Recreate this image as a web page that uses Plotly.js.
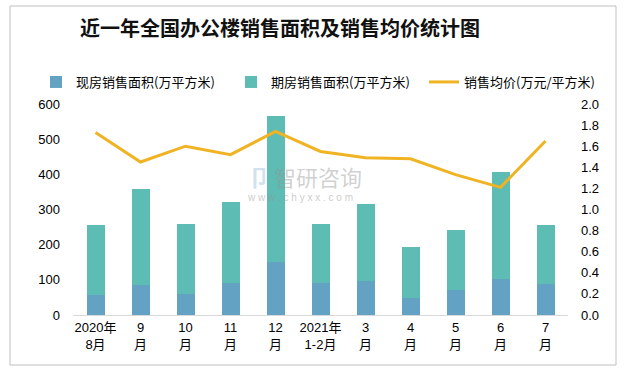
<!DOCTYPE html>
<html>
<head>
<meta charset="utf-8">
<script src="https://cdn.plot.ly/plotly-3.0.1.min.js"></script>
<style>
html,body{margin:0;padding:0;background:#fff;}
#chart{width:631px;height:371px;}
</style>
</head>
<body>
<div id="chart"></div>
<script>
var categories = ["2020年<br>8月", "9<br>月", "10<br>月", "11<br>月", "12<br>月", "2021年<br>1-2月", "3<br>月", "4<br>月", "5<br>月", "6<br>月", "7<br>月"];
var xianfang = [57, 85, 60, 91, 151, 91, 97, 48, 71, 102, 88];
var qifang = [198, 273, 199, 230, 416, 168, 219, 145, 171, 305, 168];
var price = [1.73, 1.45, 1.60, 1.52, 1.74, 1.55, 1.49, 1.48, 1.33, 1.21, 1.65];
var leftTicks = [0, 100, 200, 300, 400, 500, 600];
var rightTicks = [0, 0.2, 0.4, 0.6, 0.8, 1.0, 1.2, 1.4, 1.6, 1.8, 2.0];

var font = "Liberation Sans, Noto Sans CJK SC, sans-serif";
var data = [
  {type: "bar", name: "现房销售面积(万平方米)", x: categories, y: xianfang,
   marker: {color: "#63a2c2"}, hoverinfo: "none", legend: "legend"},
  {type: "bar", name: "期房销售面积(万平方米)", x: categories, y: qifang,
   marker: {color: "#5dbcb4"}, hoverinfo: "none", legend: "legend2"},
  {type: "scatter", mode: "lines", name: "销售均价(万元/平方米)", x: categories, y: price,
   yaxis: "y2", line: {color: "#f0b323", width: 3}, hoverinfo: "none", legend: "legend3"}
];
var legFont = {family: "Noto Sans CJK SC, sans-serif", size: 13, color: "#000"};
var legY = 1 + (104-82)/211;
function leg(textX) {
  return {orientation: "h", x: (textX - 41 - 73)/495, xanchor: "left", y: legY, yanchor: "middle",
    font: legFont, bgcolor: "rgba(0,0,0,0)"};
}
var layout = {
  width: 631, height: 371,
  margin: {l: 73, r: 63, t: 104, b: 56},
  paper_bgcolor: "#fff", plot_bgcolor: "#fff",
  barmode: "stack", bargap: 0.6,
  showlegend: true,
  font: {family: font, size: 13, color: "#000"},
  title: {text: "<b>近一年全国办公楼销售面积及销售均价统计图</b>",
    font: {family: "Noto Sans CJK SC, sans-serif", size: 20, color: "#111"},
    x: 80/631, xanchor: "left", xref: "container",
    y: 1 - 29/371, yanchor: "middle", yref: "container"},
  legend: leg(77),
  legend2: leg(272),
  legend3: leg(465),
  xaxis: {type: "category", showline: true, linecolor: "#d9d9d9", linewidth: 1,
    ticks: "", showgrid: false, zeroline: false,
    tickfont: {family: font, size: 13, color: "#000"}, fixedrange: true},
  yaxis: {range: [0, 600], tickvals: leftTicks, showgrid: false, zeroline: false,
    ticks: "", showline: false, ticklabelstandoff: 12,
    tickfont: {family: font, size: 13, color: "#000"}, fixedrange: true},
  yaxis2: {range: [0, 2.0], tickvals: rightTicks, tickformat: ".1f", overlaying: "y", side: "right",
    showgrid: false, zeroline: false, ticks: "", showline: false, ticklabelstandoff: 12,
    tickfont: {family: font, size: 13, color: "#000"}, fixedrange: true},
  shapes: [{type: "rect", xref: "paper", yref: "paper",
    x0: (10-73)/495, x1: (616-73)/495, y0: (315-365)/211, y1: (315-6)/211,
    line: {color: "#bfbfbf", width: 1}, fillcolor: "rgba(0,0,0,0)", layer: "below"}],
  annotations: [
    {xref: "paper", yref: "paper", x: (272-73)/495, y: (315-176)/211, xanchor: "left", yanchor: "middle",
     text: "智研咨询", showarrow: false,
     font: {family: "Noto Sans CJK SC, sans-serif", size: 22, color: "rgba(150,150,150,0.45)"}},
    {xref: "paper", yref: "paper", x: (245-73)/495, y: (315-197)/211, xanchor: "left", yanchor: "middle",
     text: "w w w . c h y x x . c o m", showarrow: false,
     font: {family: font, size: 10, color: "rgba(150,150,150,0.5)"}},
    {xref: "paper", yref: "paper", x: (246-73)/495, y: (315-176)/211, xanchor: "left", yanchor: "middle",
     text: "<b>卩</b>", showarrow: false,
     font: {family: "Noto Sans CJK SC, sans-serif", size: 22, color: "rgba(120,170,210,0.35)"}}
  ]
};
Plotly.newPlot("chart", data, layout, {displayModeBar: false, staticPlot: true});
</script>
</body>
</html>
